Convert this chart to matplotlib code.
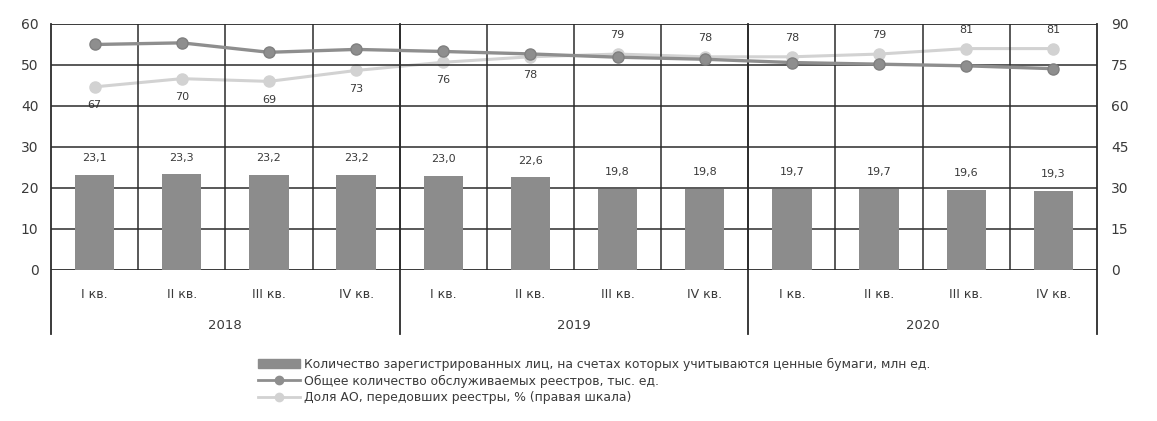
import numpy as np
import matplotlib.pyplot as plt
import matplotlib.transforms as mtransforms
from matplotlib.lines import Line2D
from matplotlib.patches import Patch

plt.rcParams['font.family'] = ['Liberation Sans Narrow', 'DejaVu Sans']

quarters = ['I кв.', 'II кв.', 'III кв.', 'IV кв.'] * 3
years = ['2018', '2019', '2020']
# млн ед.
holders = [23.1, 23.3, 23.2, 23.2, 23.0, 22.6, 19.8, 19.8, 19.7, 19.7, 19.6, 19.3]
# тыс. ед.
registries = [55.0, 55.4, 53.1, 53.8, 53.3, 52.7, 51.9, 51.4, 50.6, 50.2, 49.8, 49.1]
# %, правая шкала
share = [67, 70, 69, 73, 76, 78, 79, 78, 78, 79, 81, 81]
share_below = [True] * 6 + [False] * 6

bar_c = '#8c8c8c'
dark_c = '#8e8e8e'
light_c = '#d2d2d2'
grid_c = '#2b2b2b'
txt_c = '#3a3a3a'

n = len(holders)
x = np.arange(n)

fig = plt.figure(figsize=(11.57, 4.21), dpi=100)
ax = fig.add_axes([0.0441, 0.3587, 0.9040, 0.5843])
ax2 = ax.twinx()

ax.set_xlim(-0.5, n - 0.5)
ax.set_ylim(0, 60)
ax2.set_ylim(0, 90)
ax.set_yticks(range(0, 61, 10))
ax2.set_yticks(range(0, 91, 15))

for a in (ax, ax2):
    for s in a.spines.values():
        s.set_visible(False)
    a.tick_params(length=0, labelsize=10, labelcolor=txt_c)
ax.tick_params(axis='y', pad=9)
ax2.tick_params(axis='y', pad=10)
ax.set_xticks([])

# сетка
for yv in range(0, 61, 10):
    ax.axhline(yv, color=grid_c, lw=1.3 if yv in (0, 60) else 1.1, zorder=1)
for xv in np.arange(0.5, n - 1, 1):
    ax.axvline(xv, color=grid_c, lw=1.1, zorder=1)

trans = mtransforms.blended_transform_factory(ax.transData, ax.transAxes)
for xv in [-0.5, 3.5, 7.5, n - 0.5]:
    ax.plot([xv, xv], [-0.26, 1.0], color=grid_c, lw=1.3, transform=trans,
            clip_on=False, zorder=1)

ax.bar(x, holders, width=0.45, color=bar_c, zorder=2)
for xi, v in zip(x, holders):
    ax.annotate(f'{v:.1f}'.replace('.', ','), (xi, v), xytext=(0, 8.5),
                textcoords='offset points', ha='center', va='bottom',
                fontsize=8, color=txt_c)

ax2.plot(x, share, color=light_c, lw=2.2, marker='o', ms=8, zorder=3)
ax.plot(x, registries, color=dark_c, lw=2.4, marker='o', ms=8,
        markeredgecolor='#808080', zorder=4)
ax.set_zorder(ax2.get_zorder() + 1)
ax.patch.set_visible(False)

for xi, v, below in zip(x, share, share_below):
    ax2.annotate(str(v), (xi, v), xytext=(0, -9.5 if below else 10),
                 textcoords='offset points', ha='center',
                 va='top' if below else 'bottom', fontsize=8, color=txt_c)

for xi, q in zip(x, quarters):
    ax.text(xi, -0.10, q, transform=trans, ha='center', va='center',
            fontsize=9, color=txt_c)
for i, yr in enumerate(years):
    ax.text(4 * i + 1.5, -0.225, yr, transform=trans, ha='center',
            va='center', fontsize=9.5, color=txt_c)

handles = [
    Patch(color=bar_c),
    Line2D([], [], color=dark_c, lw=2, marker='o', ms=6),
    Line2D([], [], color=light_c, lw=2, marker='o', ms=6),
]
labels = [
    'Количество зарегистрированных лиц, на счетах которых учитываются ценные бумаги, млн ед.',
    'Общее количество обслуживаемых реестров, тыс. ед.',
    'Доля АО, передовших реестры, % (правая шкала)',
]
fig.legend(handles, labels, loc='upper left', bbox_to_anchor=(0.219, 0.162),
           frameon=False, fontsize=8.9, labelspacing=0.3, handlelength=3.4,
           handletextpad=0.3, borderaxespad=0, labelcolor=txt_c)

fig.savefig('out.png', dpi=100)
